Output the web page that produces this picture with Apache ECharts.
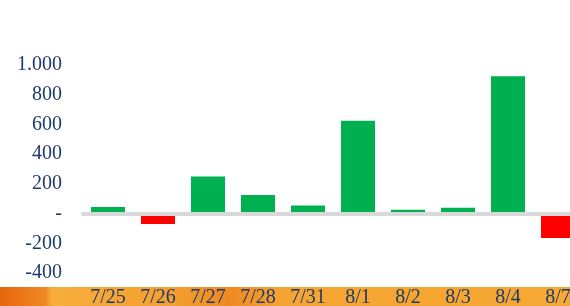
<!DOCTYPE html>
<html>
<head>
<meta charset="utf-8">
<script src="https://cdn.jsdelivr.net/npm/echarts@6/dist/echarts.min.js"></script>
<style>
  html, body { margin: 0; padding: 0; background: #fff; }
  #chart { width: 570px; height: 306px; }
</style>
</head>
<body>
<div id="chart"></div>
<script>
// 日期
var dates = ["7/25", "7/26", "7/27", "7/28", "7/31", "8/1", "8/2", "8/3", "8/4", "8/7"];
// 数值
var values = [45, -70, 250, 125, 55, 625, 25, 40, 925, -165];
// y 轴
var yMin = -400;
var yMax = 1000;
var yStep = 200;

var textColor = "#1f3a6e";
var font = "Liberation Serif";

function yLabel(v) {
  if (v === 0) return "-";
  if (Math.abs(v) >= 1000) {
    var s = String(Math.abs(v));
    s = s.slice(0, s.length - 3) + "." + s.slice(-3);
    return (v < 0 ? "-" : "") + s;
  }
  return String(v);
}

var chart = echarts.init(document.getElementById("chart"));
var option = {
  animation: false,
  // 图表右侧超出画布，最后一列被截断
  grid: {
    left: 83,
    width: 500,
    top: 65,
    bottom: 33,
    containLabel: false,
    outerBoundsMode: "none"
  },
  graphic: [
    {
      type: "rect",
      z: -10,
      shape: { x: 0, y: 287, width: 570, height: 19 },
      style: {
        fill: new echarts.graphic.LinearGradient(0, 0, 1, 0, [
          { offset: 0, color: "#e8650e" },
          { offset: 0.08, color: "#ef8a22" },
          { offset: 0.09, color: "#f7ad3c" },
          { offset: 0.3, color: "#f5a030" },
          { offset: 0.4, color: "#ee8a22" },
          { offset: 0.5, color: "#f5a533" },
          { offset: 0.75, color: "#f5a530" },
          { offset: 1, color: "#f7a936" }
        ])
      }
    }
  ],
  xAxis: [
    {
      type: "category",
      data: dates,
      axisLine: { show: false, onZero: false },
      axisTick: { show: false },
      axisLabel: {
        color: textColor,
        fontFamily: font,
        fontSize: 20,
        margin: 15,
        interval: 0
      }
    },
    {
      // 零线
      type: "category",
      data: dates,
      position: "bottom",
      z: 10,
      axisLine: { show: true, onZero: true, lineStyle: { color: "#d9d9d9", width: 4 } },
      axisTick: { show: false },
      axisLabel: { show: false }
    }
  ],
  yAxis: {
    type: "value",
    min: yMin,
    max: yMax,
    interval: yStep,
    splitLine: { show: false },
    axisLine: { show: false },
    axisTick: { show: false },
    axisLabel: {
      color: textColor,
      fontFamily: font,
      fontSize: 20,
      margin: 21,
      formatter: yLabel
    }
  },
  series: [
    {
      type: "bar",
      barWidth: 34,
      data: values.map(function (v) {
        return { value: v, itemStyle: { color: v < 0 ? "#ff0000" : "#00b050" } };
      })
    }
  ]
};
chart.setOption(option);
</script>
</body>
</html>
